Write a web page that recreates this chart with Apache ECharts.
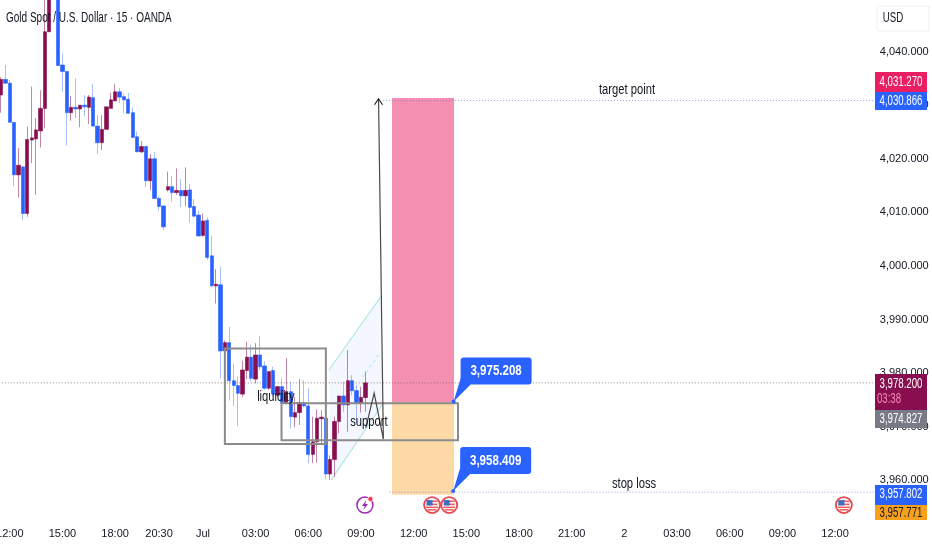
<!DOCTYPE html>
<html>
<head>
<meta charset="utf-8">
<script src="https://cdn.jsdelivr.net/npm/echarts@6/dist/echarts.min.js"></script>
<style>html,body{margin:0;padding:0;background:#fff}#c{width:932px;height:550px}</style>
</head>
<body>
<div id="c"></div>
<script>
// ---- candle values (prices) ----
const opens = [4031.9,4034.8,4034.1,4026.8,4017.0,4018.5,4009.8,4023.5,4023.7,4025.2,4029.4,4043.7,4054,4055,4037.5,4036.3,4028.6,4029.6,4029.3,4030.0,4029.6,4031.4,4026.1,4023.0,4025.5,4029.4,4030.8,4032.5,4031.6,4031.1,4028.6,4024.1,4021.3,4022.3,4015.9,4020.0,4012.6,4011.2,4014.2,4014.8,4013.7,4014.1,4013.1,4014.2,4011.1,4009.5,4005.7,4008.5,4001.9,3996.3,3996.5,3984.15,3985.7,3978.6,3977.7,3976.1,3980.5,3983.0,3978.9,3983.4,3981.35,3977.2,3980.5,3975.9,3977.5,3974.4,3976.55,3971.8,3972.65,3974.5,3973.9,3964.85,3967.2,3971.5,3971.6,3961.2,3963.9,3971.0,3975.75,3974.1,3978.6,3976.75,3974.4,3975.45];
const closes = [4034.8,4034.1,4026.8,4017.0,4018.8,4009.8,4023.6,4023.9,4025.4,4029.4,4043.7,4052,4057,4037.4,4036.3,4028.6,4029.6,4029.3,4030.0,4029.7,4031.5,4026.1,4023.0,4025.5,4029.7,4031.0,4032.5,4031.5,4031.0,4028.5,4024.0,4021.3,4022.3,4015.9,4020.0,4012.6,4011.1,4007.3,4014.8,4013.7,4014.1,4013.1,4014.1,4010.95,4009.3,4005.6,4008.4,4001.6,3996.3,3996.6,3984.15,3985.7,3978.6,3977.7,3976.25,3980.6,3983.0,3979.05,3983.4,3981.2,3977.2,3980.3,3976.1,3977.5,3974.4,3976.55,3971.9,3972.65,3974.5,3973.9,3964.85,3967.2,3971.6,3971.8,3961.2,3963.9,3971.0,3975.75,3974.1,3978.6,3976.75,3974.4,3975.5,3978.2];
const lows = [4028.6,4034.0,4026.8,4014.9,4012.8,4008.6,4009.2,4019.2,4013.3,4022.1,4025.7,4043.7,4052,4037.4,4032.5,4022.5,4027.1,4027.6,4025.9,4027.9,4026.5,4026.1,4020.9,4021.6,4025.5,4029.4,4030.8,4030.4,4028.5,4028.4,4023.8,4021.3,4021.1,4014.7,4014.1,4012.6,4010.3,4006.7,4013.9,4012.0,4013.3,4011.0,4011.1,4008.1,4009.1,4005.5,4005.5,4001.1,3996.0,3993.0,3979.05,3975.6,3974.9,3973.9,3970.15,3975.5,3978.9,3978.4,3978.1,3980.6,3976.9,3976.9,3975.6,3975.6,3973.45,3974.25,3969.7,3969.9,3970.35,3973.6,3963.2,3963.2,3963.3,3966.9,3960.2,3960.1,3960.7,3968.8,3972.8,3969.1,3975.9,3970.65,3972.65,3972.8];
const highs = [4035.2,4037.5,4034.7,4026.8,4022.0,4018.5,4026.0,4033.5,4027.6,4032.8,4051,4054,4059,4056,4039.6,4036.3,4031.7,4035.0,4030.0,4031.9,4031.9,4034.0,4028.2,4028.2,4029.7,4032.3,4034.0,4033.2,4032.2,4032.3,4029.6,4025.1,4023.3,4022.3,4020.9,4021.3,4012.9,4011.2,4017.6,4016.8,4018.2,4016.2,4018.4,4015.3,4012.5,4010.3,4009.8,4009.1,4005.6,3999.4,3999.9,3986.1,3988.6,3981.85,3979.4,3982.3,3985.9,3985.3,3985.6,3986.9,3982.2,3980.3,3981.2,3977.5,3979.05,3982.8,3978.4,3975.6,3978.9,3978.7,3977.2,3971.9,3973.25,3973.1,3973.25,3964.7,3971.9,3975.75,3978.4,3984.3,3979.65,3977.8,3977.5,3980.3];

// ---- axis ticks ----
const barCount = 200;
const timeTickBars = [2,14,26,36,46,58,70,82,94,106,118,130,142,154,166,178,190];
const timeTickLabels = ['12:00','15:00','18:00','20:30','Jul','03:00','06:00','09:00','12:00','15:00','18:00','21:00','2','03:00','06:00','09:00','12:00'];

// ---- drawn levels (prices) and zones (bar index / price) ----
const lastPrice = 3978.2, targetPrice = 4030.866, stopPrice = 3957.802;
const zoneBars = [89.07, 103.2];
const zonePrices = [4031.35, 3974.63, 3957.34];
const rectBoxes = [[51.0,3984.6,74.0,3966.8],[63.9,3974.4,104.1,3967.5]];
const arrowPath = [[83.1,3969.8],[85.0,3976.3],[87.1,3967.7],[86.0,4031.2]];
const channelPoly = [[74.7,3980.6],[86.8,3994.6],[86.8,3974.07],[75.2,3960.07]];
const channelMid = [[82.5,3979.3],[86.3,3983.8]];
const noteLabels = [['target point',142.6,4032.85],['stop loss',144.2,3959.3],['liquidity',62.6,3975.56],['support',83.8,3970.9]];
const callouts = [['3,975.208',103.1,3974.7],['3,958.409',103.0,3958.0]];
const flagBars = [98.2,102.1,192.0];
const boltBar = 82.9, iconPrice = 3955.4;

const BLUE='#2962ff', MAROON='#880e4f', INK='#131722';
const FONT='"Liberation Sans",Arial,sans-serif';

const categories = Array.from({length:barCount},(_,i)=>{const k=timeTickBars.indexOf(i);return k<0?'':timeTickLabels[k];});
const wickData = opens.map((o,i)=>[o,closes[i],lows[i],highs[i]]);
const bodyData = opens.map((o,i)=>[o,closes[i],Math.min(o,closes[i]),Math.max(o,closes[i])]);

function overlay(z,build){
  return {type:'custom',coordinateSystem:'cartesian2d',xAxisIndex:1,yAxisIndex:0,z,silent:true,clip:false,
    data:[[0,4000]],encode:{x:0,y:1},
    renderItem:(p,api)=>({type:'group',children:build(api)})};
}
function line(a,b,stroke,width,dash){
  return {type:'line',shape:{x1:a[0],y1:a[1],x2:b[0],y2:b[1]},style:{stroke,lineWidth:width,lineDash:dash||null}};
}
// narrow text: the reference type is condensed, so real text is squeezed horizontally
function ntext(text,x,y,fill,font,squeeze,align){
  return {type:'text',x,y,scaleX:squeeze,z:101,style:{text,x:0,y:0,fill,font,textAlign:align||'center',textVerticalAlign:'middle'}};
}
const levelLine=(api,x0,x1,price,stroke)=>line(api.coord([x0,price]),api.coord([x1,price]),stroke,1,[1,2]);

const zoneLayer = overlay(1,api=>{
  const tl=api.coord([zoneBars[0],zonePrices[0]]),m=api.coord([zoneBars[1],zonePrices[1]]),br=api.coord([zoneBars[1],zonePrices[2]]);
  return [
    {type:'rect',shape:{x:tl[0],y:tl[1],width:m[0]-tl[0],height:m[1]-tl[1]},style:{fill:'#f48fb1'}},
    {type:'rect',shape:{x:tl[0],y:m[1],width:m[0]-tl[0],height:br[1]-m[1]},style:{fill:'#fdd9a5'}},
    {type:'polygon',shape:{points:channelPoly.map(p=>api.coord(p))},style:{fill:'rgba(41,98,255,0.05)'}},
    line(api.coord(channelPoly[0]),api.coord(channelPoly[1]),'rgba(120,215,205,0.75)',1),
    line(api.coord(channelPoly[3]),api.coord(channelPoly[2]),'rgba(120,215,205,0.75)',1),
    line(api.coord(channelMid[0]),api.coord(channelMid[1]),'rgba(120,215,205,0.6)',1,[3,3]),
    levelLine(api,-0.5,199.5,lastPrice,'rgba(120,90,110,0.75)'),
    levelLine(api,87,199.5,targetPrice,'rgba(90,100,240,0.6)'),
    levelLine(api,88.5,199.5,stopPrice,'rgba(90,100,240,0.6)')
  ];
});

const upperLayer = overlay(10,api=>{
  const out=[];
  rectBoxes.forEach(b=>{
    const a=api.coord([b[0],b[1]]),c=api.coord([b[2],b[3]]);
    out.push({type:'rect',shape:{x:a[0],y:a[1],width:c[0]-a[0],height:c[1]-a[1]},style:{fill:null,stroke:'#8b8b8b',lineWidth:2}});
  });
  const pts=arrowPath.map(p=>api.coord(p));
  out.push({type:'polyline',shape:{points:pts},style:{fill:null,stroke:'#4a4a4a',lineWidth:1.2}});
  const tip=pts[pts.length-1];
  out.push({type:'polyline',shape:{points:[[tip[0]-4,tip[1]+6],[tip[0],tip[1]],[tip[0]+4,tip[1]+6]]},style:{fill:null,stroke:'#222',lineWidth:1.2}});
  noteLabels.forEach(n=>{
    const c=api.coord([n[1],n[2]]);
    out.push(ntext(n[0],c[0],c[1],INK,'14px '+FONT,0.8));
  });
  callouts.forEach(n=>{
    const c=api.coord([n[1],n[2]]);
    const bx=c[0]+7,by=c[1]-44,bw=71,bh=27;
    out.push({type:'polygon',shape:{points:[[c[0],c[1]],[bx,by+bh-6],[bx+10,by+bh]]},style:{fill:BLUE}});
    out.push({type:'rect',shape:{x:bx,y:by,width:bw,height:bh,r:3},style:{fill:BLUE}});
    out.push({type:'circle',shape:{cx:c[0],cy:c[1],r:2},style:{fill:BLUE}});
    out.push(ntext(n[0],bx+bw/2,by+bh/2,'#fff','bold 15px '+FONT,0.77));
  });
  flagBars.forEach(b=>{
    const c=api.coord([b,iconPrice]),x=c[0],y=c[1];
    out.push({type:'circle',shape:{cx:x,cy:y,r:8},style:{fill:'#fff',stroke:'#e5484d',lineWidth:1.8}});
    [[-5.5,-4.5,11],[-5.5,-1.5,11],[-6,1.5,12],[-4.5,4,9]].forEach(s=>out.push({type:'rect',shape:{x:x+s[0],y:y+s[1],width:s[2],height:1.5},style:{fill:'#ef5a5f'}}));
    out.push({type:'rect',shape:{x:x-5.5,y:y-5,width:6,height:5.5},style:{fill:'#3f6fc4'}});
  });
  const k=api.coord([boltBar,iconPrice]),bx=k[0],by=k[1];
  out.push({type:'circle',shape:{cx:bx,cy:by,r:8},style:{fill:'#fff',stroke:'#9c27b0',lineWidth:1.5}});
  out.push({type:'polygon',shape:{points:[[bx+1.5,by-5],[bx-3,by+1],[bx-0.3,by+1],[bx-1.5,by+5],[bx+3,by-1],[bx+0.3,by-1]]},style:{fill:'#9c27b0'}});
  out.push({type:'circle',shape:{cx:bx+5.5,cy:by-6,r:2.6},style:{fill:'#f23645',stroke:'#fff',lineWidth:0.8}});
  return out;
});

function tag(x,y,w,h,bg){return {type:'rect',z:100,shape:{x,y,width:w,height:h},style:{fill:bg}};}
function label(text,cx,cy,fill){return ntext(text,cx,cy,fill,'14px '+FONT,0.69);}

const chart=echarts.init(document.getElementById('c'),null,{renderer:'canvas'});
chart.setOption({
  animation:false,
  backgroundColor:'#ffffff',
  grid:{left:-1.2,top:-2,width:878,height:536,containLabel:false,outerBoundsMode:'none'},
  xAxis:[
    {type:'category',data:categories,boundaryGap:true,axisLine:{show:false},axisTick:{show:false},splitLine:{show:false},
     axisLabel:{interval:0,margin:-6,color:INK,fontFamily:'Liberation Sans',fontSize:11,hideOverlap:false}},
    {type:'value',min:-0.5,max:199.5,show:false,splitLine:{show:false}}
  ],
  yAxis:{type:'value',min:3950,max:4050,interval:10,position:'right',scale:true,
    axisLine:{show:false},axisTick:{show:false},splitLine:{show:false},
    axisLabel:{showMinLabel:false,showMaxLabel:false,margin:3,color:INK,fontFamily:'Liberation Sans',fontSize:11,
      formatter:v=>v.toLocaleString('en-US',{minimumFractionDigits:3,maximumFractionDigits:3})}},
  series:[
    zoneLayer,
    {type:'candlestick',name:'wicks',data:wickData,barWidth:1,z:3,silent:true,
     itemStyle:{color:'rgba(136,14,79,0.5)',color0:'rgba(41,98,255,0.4)',borderColor:'rgba(136,14,79,0.5)',borderColor0:'rgba(41,98,255,0.4)',borderWidth:1}},
    {type:'candlestick',name:'bodies',data:bodyData,barWidth:3.8,z:4,silent:true,
     itemStyle:{color:MAROON,color0:BLUE,borderColor:MAROON,borderColor0:BLUE,borderWidth:0.6}},
    upperLayer
  ],
  graphic:[
    {type:'rect',z:100,shape:{x:877,y:6,width:52,height:25,r:2},style:{fill:'#fff',stroke:'#f0f0f0',lineWidth:1}},
    label('USD',893,18,INK),
    ntext('Gold Spot / U.S. Dollar · 15 · OANDA',6,18,INK,'14px '+FONT,0.715,'left'),
    tag(875,72,52,20,'#e91e63'),label('4,031.270',901,82,'#fff'),
    tag(875,92,52,18,BLUE),label('4,030.866',901,101,'#fff'),
    tag(875,374,52,36,MAROON),label('3,978.200',901,384,'#fff'),label('03:38',889,399,'#f48fb1'),
    tag(875,410,52,18,'#787b86'),label('3,974.827',901,419,'#fff'),
    tag(875,485,52,20,BLUE),label('3,957.802',901,494,'#fff'),
    tag(875,505,52,15,'#f7a01c'),label('3,957.771',901,513,INK)
  ]
});
</script>
</body>
</html>
